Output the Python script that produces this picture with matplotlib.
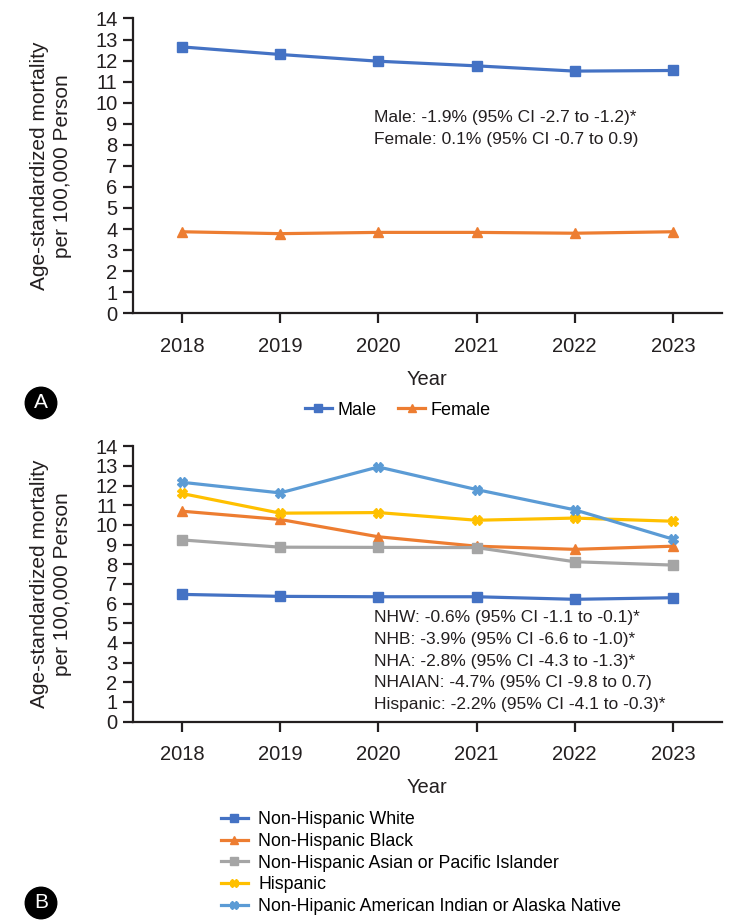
import matplotlib
matplotlib.use("Agg")
import matplotlib.pyplot as plt

plt.rcParams["font.family"] = ["Liberation Sans", "DejaVu Sans"]

years = ["2018", "2019", "2020", "2021", "2022", "2023"]

# panel A: by sex
male = [12.65, 12.29, 11.97, 11.75, 11.50, 11.53]
female = [3.87, 3.78, 3.84, 3.84, 3.80, 3.87]

# panel B: by race/ethnicity
nhw = [6.47, 6.37, 6.35, 6.35, 6.22, 6.30]
nhb = [10.70, 10.28, 9.40, 8.92, 8.76, 8.92]
nhapi = [9.24, 8.87, 8.86, 8.85, 8.13, 7.96]
hispanic = [11.60, 10.60, 10.63, 10.24, 10.35, 10.19]
nhaian = [12.17, 11.63, 12.95, 11.80, 10.77, 9.28]

notes_a = ["Male: -1.9% (95% CI -2.7 to -1.2)*",
           "Female: 0.1% (95% CI -0.7 to 0.9)"]
notes_b = ["NHW: -0.6% (95% CI -1.1 to -0.1)*",
           "NHB: -3.9% (95% CI -6.6 to -1.0)*",
           "NHA: -2.8% (95% CI -4.3 to -1.3)*",
           "NHAIAN: -4.7% (95% CI -9.8 to 0.7)",
           "Hispanic: -2.2% (95% CI -4.1 to -0.3)*"]

BLUE = "#4472C4"
ORANGE = "#ED7D31"
GRAY = "#A5A5A5"
YELLOW = "#FFC000"
LIGHTBLUE = "#5B9BD5"
TXT = "#231F20"
FS = 14.5

fig = plt.figure(figsize=(7.3, 9.24), dpi=100)
ax_a = fig.add_axes([0.182, 0.661, 0.807, 0.319])
ax_b = fig.add_axes([0.182, 0.219, 0.807, 0.298])


def style(ax):
    ax.set_xlim(-0.5, 5.5)
    ax.set_ylim(0, 14)
    ax.set_yticks(range(0, 15))
    ax.set_xticks(range(len(years)))
    ax.set_xticklabels(years)
    for s in ["top", "right"]:
        ax.spines[s].set_visible(False)
    for s in ["left", "bottom"]:
        ax.spines[s].set_linewidth(1.6)
        ax.spines[s].set_color(TXT)
    ax.tick_params(axis="both", direction="out", length=7, width=1.6,
                   color=TXT, labelcolor=TXT, labelsize=FS)
    ax.tick_params(axis="y", pad=4)
    ax.tick_params(axis="x", pad=10)
    ax.set_xlabel("Year", fontsize=FS, color=TXT, labelpad=10)
    ax.set_ylabel("Age-standardized mortality\nper 100,000 Person",
                  fontsize=15, color=TXT, labelpad=17, linespacing=1.22)


x = range(len(years))
lw = 2.3
ax_a.plot(x, male, color=BLUE, marker="s", ms=7, lw=lw, label="Male")
ax_a.plot(x, female, color=ORANGE, marker="^", ms=7, lw=lw, label="Female")
style(ax_a)
ax_a.text(1.96, 8.78, "\n".join(notes_a), fontsize=12.5, color=TXT,
          linespacing=1.55, va="center")
fig.legend(*ax_a.get_legend_handles_labels(), loc="center",
           bbox_to_anchor=(0.545, 0.556), ncol=2, frameon=False,
           fontsize=13, handlelength=1.5, handletextpad=0.3, columnspacing=1.2,
           markerscale=0.8)

series_b = [
    (nhw, BLUE, "s", "Non-Hispanic White"),
    (nhb, ORANGE, "^", "Non-Hispanic Black"),
    (nhapi, GRAY, "s", "Non-Hispanic Asian or Pacific Islander"),
    (hispanic, YELLOW, "X", "Hispanic"),
    (nhaian, LIGHTBLUE, "X", "Non-Hipanic American Indian or Alaska Native"),
]
for vals, c, m, lab in series_b:
    ax_b.plot(x, vals, color=c, marker=m, ms=6.5, lw=lw, label=lab)
style(ax_b)
ax_b.text(1.96, 3.08, "\n".join(notes_b), fontsize=12.5, color=TXT,
          linespacing=1.55, va="center")
fig.legend(*ax_b.get_legend_handles_labels(), loc="upper left",
           bbox_to_anchor=(0.293, 0.130), ncol=1, frameon=False,
           fontsize=12.8, handlelength=1.5, handletextpad=0.6,
           labelspacing=0.27, borderaxespad=0, markerscale=0.8)

for lab, yy in [("A", 1 - 403 / 924), ("B", 1 - 903 / 924)]:
    fig.text(41 / 730, yy, lab, fontsize=15, color="white", ha="center",
             va="center",
             bbox=dict(boxstyle="circle,pad=0.3", fc="black", ec="black"))

fig.savefig("out.png", dpi=100)
